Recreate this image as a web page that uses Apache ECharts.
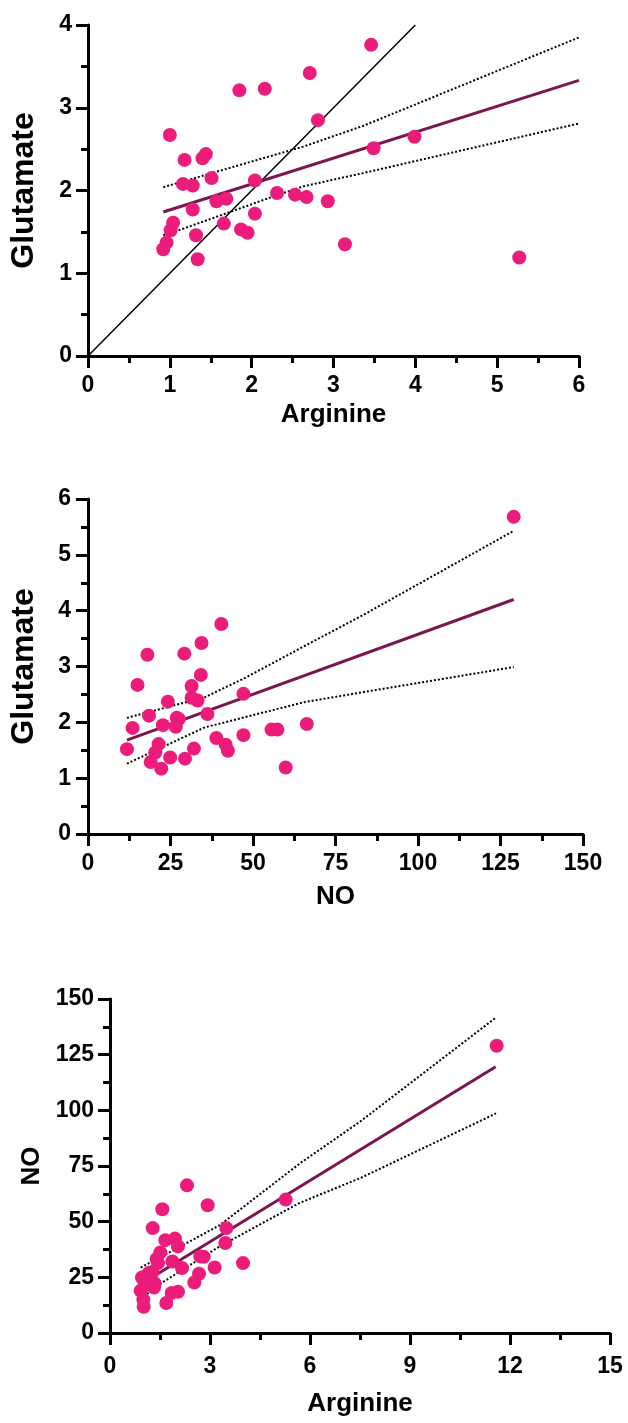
<!DOCTYPE html>
<html>
<head>
<meta charset="UTF-8">
<title>Arginine, NO, Glutamate</title>
<style>
	html, body { margin: 0; padding: 0; background: #fff; }
	#main { width: 628px; height: 1423px; }
</style>
</head>
<body>
<div id="main"></div>
<script src="https://cdn.jsdelivr.net/npm/echarts@6/dist/echarts.min.js"></script>
<script>
	// one row per subject: arginine, NO, glutamate
	var arginine = [5.27, 1.34, 0.92, 0.96, 3.14, 1.32, 1.01, 1.87, 1.95, 1.04, 1.66, 1.28, 2.04, 2.31, 1.57, 2.93, 1.69, 2.67,
		2.53, 1.51, 2.04, 1.16, 1.28, 1.18, 1.40, 1.44, 3.49, 3.99, 1.00, 2.81, 1.85, 2.16, 2.71, 3.46, 11.6];
	var no = [59.9, 22.2, 19.0, 24.9, 29.4, 20.4, 11.8, 32.1, 42.4, 21.4, 41.7, 47.1, 38.9, 66.3, 55.6, 57.4, 13.5, 26.6,
		22.7, 36.2, 18.5, 26.9, 27.5, 24.2, 33.2, 31.4, 47.1, 31.4, 15.0, 34.2, 18.0, 29.2, 34.4, 40.4, 129];
	var glutamate = [1.19, 1.17, 1.29, 1.37, 1.35, 1.46, 1.52, 1.53, 1.49, 1.61, 1.60, 1.77, 1.72, 1.97, 1.87, 1.87, 1.90, 1.92,
		1.95, 2.15, 2.12, 2.08, 2.06, 2.37, 2.39, 2.44, 2.51, 2.65, 2.67, 2.85, 3.21, 3.23, 3.42, 3.76, 5.68];

	// regression lines and 95% bands
	var fit1 = [[0.92, 1.74], [6, 3.33]];
	var upper1 = [[0.92, 2.04], [2, 2.35], [2.63, 2.53], [3.36, 2.78], [6, 3.85]];
	var lower1 = [[0.92, 1.46], [1.14, 1.53], [2.27, 1.93], [2.63, 2.05], [3.36, 2.21], [6, 2.81]];
	var identity1 = [[0, 0], [4, 4]];

	var fit2 = [[11.8, 1.68], [129, 4.20]];
	var upper2 = [[11.8, 2.08], [35.4, 2.45], [47.4, 2.79], [65.4, 3.36], [83.3, 3.92], [129, 5.43]];
	var lower2 = [[11.8, 1.26], [35.4, 1.91], [65.4, 2.36], [83.3, 2.54], [129, 2.99]];

	var fit3 = [[0.92, 21.9], [11.57, 119.6]];
	var upper3 = [[0.92, 29.4], [1.55, 34.3], [3.3, 48.5], [5.7, 76.2], [7.5, 94.9], [11.58, 141.7]];
	var lower3 = [[0.92, 15.4], [1.55, 22.5], [3.3, 39], [5.7, 58.5], [7.5, 69.5], [11.58, 98.6]];

	function pairs(xs, ys) {
		var out = [];
		for (var i = 0; i < xs.length; i++) {
			out.push([xs[i], ys[i]]);
		}
		return out;
	}

	var pink = '#EC1C7B';
	var maroon = '#7A1650';
	var font = "'Liberation Sans', Arial, sans-serif";

	function axis(idx, min, max, interval, name, gap, labelMargin, nameSize) {
		return {
			type: 'value',
			gridIndex: idx,
			min: min,
			max: max,
			interval: interval,
			name: name,
			nameLocation: 'middle',
			nameGap: gap,
			nameTextStyle: { color: '#000', fontWeight: 'bold', fontSize: nameSize, fontFamily: font },
			axisLine: { show: true, onZero: false, lineStyle: { color: '#000', width: 3 } },
			axisTick: { show: true, length: 12, lineStyle: { color: '#000', width: 3 } },
			minorTick: { show: true, splitNumber: 2, length: 7, lineStyle: { color: '#000', width: 3 } },
			axisLabel: { color: '#000', fontWeight: 'bold', fontSize: 23, fontFamily: font, margin: labelMargin },
			splitLine: { show: false }
		};
	}

	function lineSeries(idx, data, color, width, type) {
		return {
			type: 'line',
			xAxisIndex: idx,
			yAxisIndex: idx,
			data: data,
			symbol: 'none',
			silent: true,
			lineStyle: { color: color, width: width, type: type }
		};
	}

	function dots(idx, data) {
		return {
			type: 'scatter',
			xAxisIndex: idx,
			yAxisIndex: idx,
			data: data,
			symbolSize: 14,
			itemStyle: { color: pink, opacity: 1 },
			z: 5
		};
	}

	var myChart = echarts.init(document.getElementById('main'));
	var option = {
		animation: false,
		backgroundColor: '#fff',
		grid: [
			{ left: 82, top: 25, width: 497, height: 331 },
			{ left: 82, top: 499, width: 501, height: 335 },
			{ left: 110, top: 999, width: 500, height: 334 }
		],
		xAxis: [
			axis(0, 0, 6, 1, 'Arginine', 46, 18, 26),
			axis(1, 0, 150, 25, 'NO', 50, 18, 26),
			axis(2, 0, 15, 3, 'Arginine', 58, 22, 26)
		],
		yAxis: [
			axis(0, 0, 4, 1, 'Glutamate', 48, 16, 32),
			axis(1, 0, 6, 1, 'Glutamate', 48, 17, 32),
			axis(2, 0, 150, 25, 'NO', 64, 16, 26)
		],
		series: [
			lineSeries(0, identity1, '#000', 1.5, 'solid'),
			lineSeries(0, upper1, '#000', 2, 'dotted'),
			lineSeries(0, lower1, '#000', 2, 'dotted'),
			lineSeries(0, fit1, maroon, 3, 'solid'),
			dots(0, pairs(arginine, glutamate)),

			lineSeries(1, upper2, '#000', 2, 'dotted'),
			lineSeries(1, lower2, '#000', 2, 'dotted'),
			lineSeries(1, fit2, maroon, 3, 'solid'),
			dots(1, pairs(no, glutamate)),

			lineSeries(2, upper3, '#000', 2, 'dotted'),
			lineSeries(2, lower3, '#000', 2, 'dotted'),
			lineSeries(2, fit3, maroon, 3, 'solid'),
			dots(2, pairs(arginine, no))
		]
	};
	myChart.setOption(option);
</script>
</body>
</html>
